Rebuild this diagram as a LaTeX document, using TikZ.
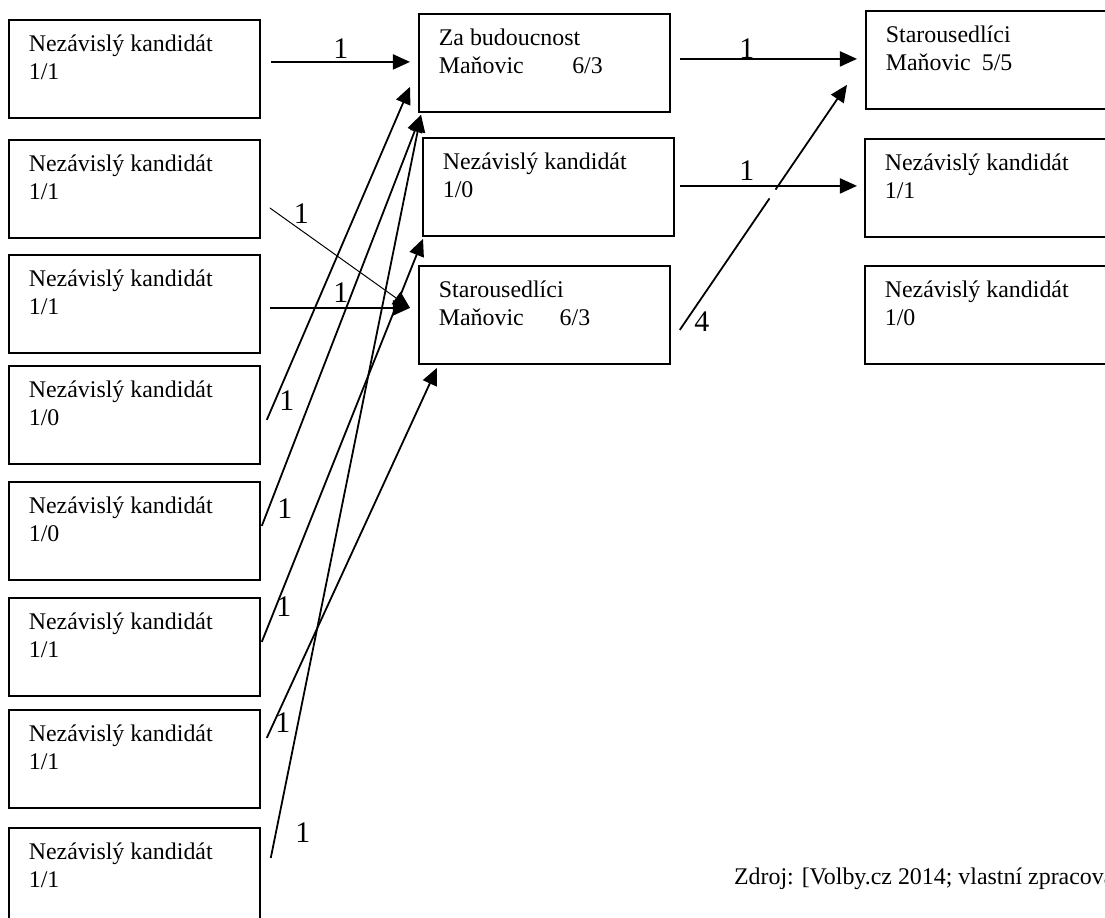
\documentclass[tikz,border=0pt]{standalone}
\usepackage{fontspec}
\setmainfont{Liberation Serif}
\usetikzlibrary{arrows.meta,calc}

\newcommand{\partybox}[2]{\parbox[t][36.7pt][t]{106pt}{\strut #1\\#2}}

\begin{document}
\begin{tikzpicture}[x=0.502pt,y=-0.502pt,
    party/.style={draw,line width=0.9pt,anchor=north west,inner xsep=10pt,inner ysep=6.26pt,
      font=\fontsize{12}{14}\selectfont},
    flow/.style={line width=0.9pt,-{Triangle[length=8.6pt,width=7.6pt]}},
    num/.style={font=\fontsize{15}{18}\selectfont,inner sep=0pt,anchor=base west}]
  \useasboundingbox (0,0) rectangle (1105,918);

  % candidates on the left
  \node[party] (l1) at (8,19)  {\partybox{Nezávislý kandidát}{1/1}};
  \node[party] (l2) at (8,139) {\partybox{Nezávislý kandidát}{1/1}};
  \node[party] (l3) at (8,254) {\partybox{Nezávislý kandidát}{1/1}};
  \node[party] (l4) at (8,365) {\partybox{Nezávislý kandidát}{1/0}};
  \node[party] (l5) at (8,481) {\partybox{Nezávislý kandidát}{1/0}};
  \node[party] (l6) at (8,597) {\partybox{Nezávislý kandidát}{1/1}};
  \node[party] (l7) at (8,709) {\partybox{Nezávislý kandidát}{1/1}};
  \node[party] (l8) at (8,827) {\partybox{Nezávislý kandidát}{1/1}};

  % middle column
  \node[party] (mA) at (418,13)  {\partybox{Za budoucnost}{\makebox[67pt][l]{Maňovic}6/3}};
  \node[party] (mB) at (422,137) {\partybox{Nezávislý kandidát}{1/0}};
  \node[party] (mC) at (418,265) {\partybox{Starousedlíci}{\makebox[60.7pt][l]{Maňovic}6/3}};

  % right column
  \node[party] (r1) at (865,10)  {\partybox{Starousedlíci}{\makebox[48.2pt][l]{Maňovic}5/5}};
  \node[party] (r2) at (864,138) {\partybox{Nezávislý kandidát}{1/1}};
  \node[party] (r3) at (864,265) {\partybox{Nezávislý kandidát}{1/0}};

  % flows left -> middle
  \draw[flow] ([shift={(10,-7)}]l1.east) node[num,shift={(61.7,-3)}] (w1) {1}
    -- ([shift={(-8,-1)}]mA.west);
  \draw[flow,line width=0.5pt] ([shift={(9,19)}]l2.east) node[num,shift={(23.7,16)}] (w2) {1}
    -- ([shift={(-8,-7)}]mC.west);
  \draw[flow] ([shift={(9,4)}]l3.east) node[num,shift={(62.7,-5)}] (w3) {1}
    -- ([shift={(-8,-7)}]mC.west);
  \draw[flow] ([shift={(6,5)}]l4.east) node[num,shift={(11.7,-9)}] (w4) {1}
    -- ([shift={(-8,-26)}]mA.south west);
  \draw[flow] ([shift={(1,-5)}]l5.east) node[num,shift={(14.7,-7)}] (w5) {1}
    -- ([shift={(3,2)}]mA.south west);
  \draw[flow] ([shift={(1,-5)}]l6.east) node[num,shift={(13.7,-25)}] (w6) {1}
    -- ([shift={(1,2)}]mB.south west);
  \draw[flow] ([shift={(6,-21)}]l7.east) node[num,shift={(7.7,-5)}] (w7) {1}
    -- ([shift={(19,3)}]mC.south west);
  \draw[flow] ([shift={(10,-19)}]l8.east) node[num,shift={(23.7,-15)}] (w8) {1}
    -- ([shift={(3,2)}]mA.south west);

  % flows middle -> right
  \draw[flow] ([shift={(9,-4)}]mA.east) node[num,shift={(58.7,0)}] (w9) {1}
    -- ([shift={(-8,-1)}]r1.west);
  \draw[flow] ([shift={(5,-1)}]mB.east) node[num,shift={(58.7,-5)}] (w10) {1}
    -- ([shift={(-7,-2)}]r2.west);
  \draw[flow] ([shift={(9,15)}]mC.east) coordinate (g0) node[num,shift={(13.6,2)}] (w11) {4}
    -- ([shift={(-18,-25)}]r1.south west) coordinate (g1);
  \draw[white,line width=2.5pt] ($(g0)!0.537!(g1)$) -- ($(g0)!0.572!(g1)$);

  \node[anchor=base west,font=\fontsize{12}{14}\selectfont] (src) at (727,885)
    {Zdroj: [Volby.cz 2014; vlastní zpracování]};
\end{tikzpicture}
\end{document}
